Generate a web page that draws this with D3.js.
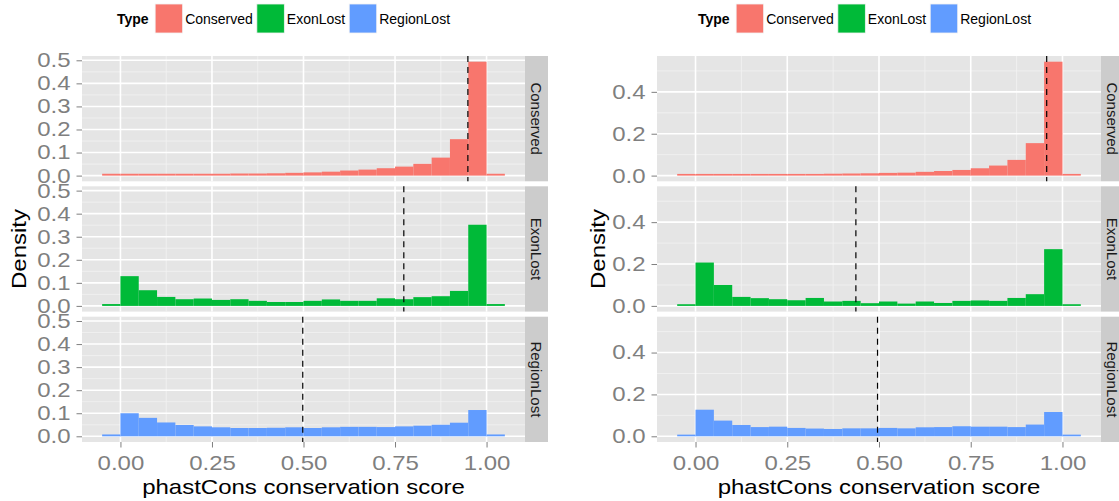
<!DOCTYPE html>
<html>
<head>
<meta charset="utf-8">
<script src="https://cdn.jsdelivr.net/npm/d3@7"></script>
<style>
  html, body { margin: 0; padding: 0; background: #fff; }
  svg { display: block; font-family: "Liberation Sans", Arial, sans-serif; }
</style>
</head>
<body>
<svg id="chart" width="1119" height="501"></svg>
<script>
// bin starts (binwidth 0.05)
const binStarts = [-0.05, 0.00, 0.05, 0.10, 0.15, 0.20, 0.25, 0.30, 0.35, 0.40, 0.45,
                   0.50, 0.55, 0.60, 0.65, 0.70, 0.75, 0.80, 0.85, 0.90, 0.95, 1.00];
const binWidth = 0.05;

const types = ["Conserved", "ExonLost", "RegionLost"];
const typeColors = ["#F8766D", "#00BA38", "#619CFF"];

// left plot densities
const leftConserved = [0.008, 0.008, 0.008, 0.008, 0.008, 0.008, 0.008, 0.009, 0.009, 0.010, 0.012,
                       0.014, 0.017, 0.022, 0.026, 0.032, 0.039, 0.051, 0.078, 0.158, 0.494, 0.008];
const leftExonLost = [0.008, 0.129, 0.068, 0.039, 0.029, 0.032, 0.026, 0.029, 0.022, 0.017, 0.017,
                      0.022, 0.028, 0.022, 0.022, 0.033, 0.029, 0.038, 0.042, 0.065, 0.352, 0.008];
const leftRegionLost = [0.008, 0.100, 0.080, 0.060, 0.049, 0.043, 0.039, 0.036, 0.036, 0.037, 0.039,
                        0.036, 0.039, 0.041, 0.041, 0.040, 0.043, 0.046, 0.050, 0.059, 0.114, 0.008];
const leftCutoffs = [0.949, 0.774, 0.498];

// right plot densities
const rightConserved = [0.008, 0.008, 0.008, 0.008, 0.008, 0.008, 0.008, 0.008, 0.009, 0.010, 0.011,
                        0.013, 0.014, 0.018, 0.022, 0.027, 0.035, 0.048, 0.075, 0.155, 0.544, 0.008];
const rightExonLost = [0.008, 0.207, 0.100, 0.043, 0.037, 0.032, 0.027, 0.038, 0.021, 0.024, 0.013,
                       0.021, 0.011, 0.021, 0.014, 0.024, 0.026, 0.024, 0.038, 0.056, 0.271, 0.008];
const rightRegionLost = [0.008, 0.127, 0.075, 0.054, 0.044, 0.046, 0.040, 0.037, 0.035, 0.038, 0.038,
                         0.040, 0.038, 0.043, 0.044, 0.048, 0.046, 0.046, 0.044, 0.056, 0.116, 0.008];
const rightCutoffs = [0.957, 0.437, 0.496];

const xTicks = [0, 0.25, 0.5, 0.75, 1];
const xMinor = [0.125, 0.375, 0.625, 0.875];
const leftYTicks = [0, 0.1, 0.2, 0.3, 0.4, 0.5];
const leftYMinor = [0.05, 0.15, 0.25, 0.35, 0.45];
const rightYTicks = [0, 0.2, 0.4];
const rightYMinor = [0.1, 0.3, 0.5];

const xTitle = "phastCons conservation score";
const yTitle = "Density";

const svg = d3.select("#chart");
svg.append("rect").attr("width", 1119).attr("height", 501).attr("fill", "#fff");

const rowTop = [56, 186.3, 316.7];
const rowH = 125.3;
const stretch = 1.2; // axis text is drawn wide in the source

function drawPlot(cfg) {
  const g = svg.append("g");
  const x = d3.scaleLinear()
    .domain([binStarts[0] - 0.055, binStarts[binStarts.length - 1] + binWidth + 0.055])
    .range([cfg.x0, cfg.x1]);
  const yMax = d3.max(cfg.series, s => d3.max(s));

  cfg.series.forEach((vals, i) => {
    const top = rowTop[i];
    const y = d3.scaleLinear().domain([-0.05 * yMax, 1.05 * yMax]).range([top + rowH, top]);
    const p = g.append("g");

    p.append("rect")
      .attr("x", cfg.x0).attr("y", top)
      .attr("width", cfg.x1 - cfg.x0).attr("height", rowH)
      .attr("fill", "#e5e5e5");

    // minor grid
    p.selectAll(".ymin").data(cfg.yMinor.filter(v => y(v) >= top)).join("line")
      .attr("x1", cfg.x0).attr("x2", cfg.x1)
      .attr("y1", d => y(d)).attr("y2", d => y(d))
      .attr("stroke", "#f2f2f2").attr("stroke-width", 0.8);
    p.selectAll(".xmin").data(xMinor).join("line")
      .attr("x1", d => x(d)).attr("x2", d => x(d))
      .attr("y1", top).attr("y2", top + rowH)
      .attr("stroke", "#f2f2f2").attr("stroke-width", 0.8);
    // major grid
    p.selectAll(".ymaj").data(cfg.yTicks).join("line")
      .attr("x1", cfg.x0).attr("x2", cfg.x1)
      .attr("y1", d => y(d)).attr("y2", d => y(d))
      .attr("stroke", "#fff").attr("stroke-width", 1.6);
    p.selectAll(".xmaj").data(xTicks).join("line")
      .attr("x1", d => x(d)).attr("x2", d => x(d))
      .attr("y1", top).attr("y2", top + rowH)
      .attr("stroke", "#fff").attr("stroke-width", 1.6);

    // bars
    p.selectAll(".bar").data(vals).join("rect")
      .attr("x", (d, k) => x(binStarts[k]))
      .attr("width", (d, k) => x(binStarts[k] + binWidth) - x(binStarts[k]))
      .attr("y", d => y(d))
      .attr("height", d => y(0) - y(d))
      .attr("fill", typeColors[i]);

    // cutoff line
    p.append("line")
      .attr("x1", x(cfg.cutoffs[i])).attr("x2", x(cfg.cutoffs[i]))
      .attr("y1", top).attr("y2", top + rowH)
      .attr("stroke", "#000").attr("stroke-width", 1.2)
      .attr("stroke-dasharray", "6,5");

    // strip
    p.append("rect")
      .attr("x", cfg.x1).attr("y", top)
      .attr("width", 23).attr("height", rowH)
      .attr("fill", "#cccccc");
    p.append("text")
      .attr("transform", `translate(${cfg.x1 + 11.5},${top + rowH / 2}) rotate(90)`)
      .attr("text-anchor", "middle")
      .attr("dy", "0.35em")
      .attr("font-size", 15)
      .attr("fill", "#1a1a1a")
      .text(types[i]);

    // y axis
    const ya = p.append("g").attr("transform", `translate(${cfg.x0},0)`)
      .call(d3.axisLeft(y).tickValues(cfg.yTicks).tickFormat(d3.format(".1f")).tickSize(5.5));
    ya.select(".domain").remove();
    ya.selectAll("line").attr("stroke", "#7f7f7f").attr("stroke-width", 1);
    ya.selectAll("text")
      .attr("x", -11.5 / stretch)
      .attr("transform", `scale(${stretch},1)`)
      .attr("font-size", 20)
      .attr("font-family", "Liberation Sans, Arial, sans-serif")
      .attr("fill", "#7f7f7f");

    if (i === 2) {
      const xa = p.append("g").attr("transform", `translate(0,${top + rowH})`)
        .call(d3.axisBottom(x).tickValues(xTicks).tickFormat(d3.format(".2f")).tickSize(5.5));
      xa.select(".domain").remove();
      xa.selectAll("line").attr("stroke", "#7f7f7f").attr("stroke-width", 1);
      xa.selectAll("text")
        .attr("y", 28.5).attr("dy", 0)
        .attr("transform", `scale(${stretch},1)`)
        .attr("font-size", 20)
        .attr("font-family", "Liberation Sans, Arial, sans-serif")
        .attr("fill", "#7f7f7f");
    }
  });

  // axis titles
  g.append("text")
    .attr("transform", `translate(${(cfg.x0 + cfg.x1) / 2},494.3) scale(${stretch},1)`)
    .attr("text-anchor", "middle")
    .attr("font-size", 20)
    .attr("fill", "#000")
    .text(xTitle);
  g.append("text")
    .attr("transform", `translate(${cfg.yTitleX},249) rotate(-90) scale(${stretch},1)`)
    .attr("text-anchor", "middle")
    .attr("font-size", 20)
    .attr("fill", "#000")
    .text(yTitle);

  // legend
  const lg = g.append("g");
  let lx = cfg.legendX;
  const t = lg.append("text").attr("x", lx).attr("y", 23.5)
    .attr("font-size", 14).attr("font-weight", "bold").attr("fill", "#000").text("Type");
  lx += t.node().getComputedTextLength() + 6.5;
  types.forEach((name, i) => {
    lg.append("rect").attr("x", lx).attr("y", 4).attr("width", 27.5).attr("height", 29)
      .attr("fill", typeColors[i]).attr("stroke", "#f2f2f2").attr("stroke-width", 0.8);
    lx += 27.5 + 2.5;
    const lt = lg.append("text").attr("x", lx).attr("y", 23.5)
      .attr("font-size", 14).attr("fill", "#000").text(name);
    lx += lt.node().getComputedTextLength() + 4;
  });
}

drawPlot({
  x0: 82, x1: 525, legendX: 117, yTitleX: 25.7,
  series: [leftConserved, leftExonLost, leftRegionLost],
  cutoffs: leftCutoffs, yTicks: leftYTicks, yMinor: leftYMinor
});
drawPlot({
  x0: 657, x1: 1101, legendX: 698, yTitleX: 605,
  series: [rightConserved, rightExonLost, rightRegionLost],
  cutoffs: rightCutoffs, yTicks: rightYTicks, yMinor: rightYMinor
});
</script>
</body>
</html>
